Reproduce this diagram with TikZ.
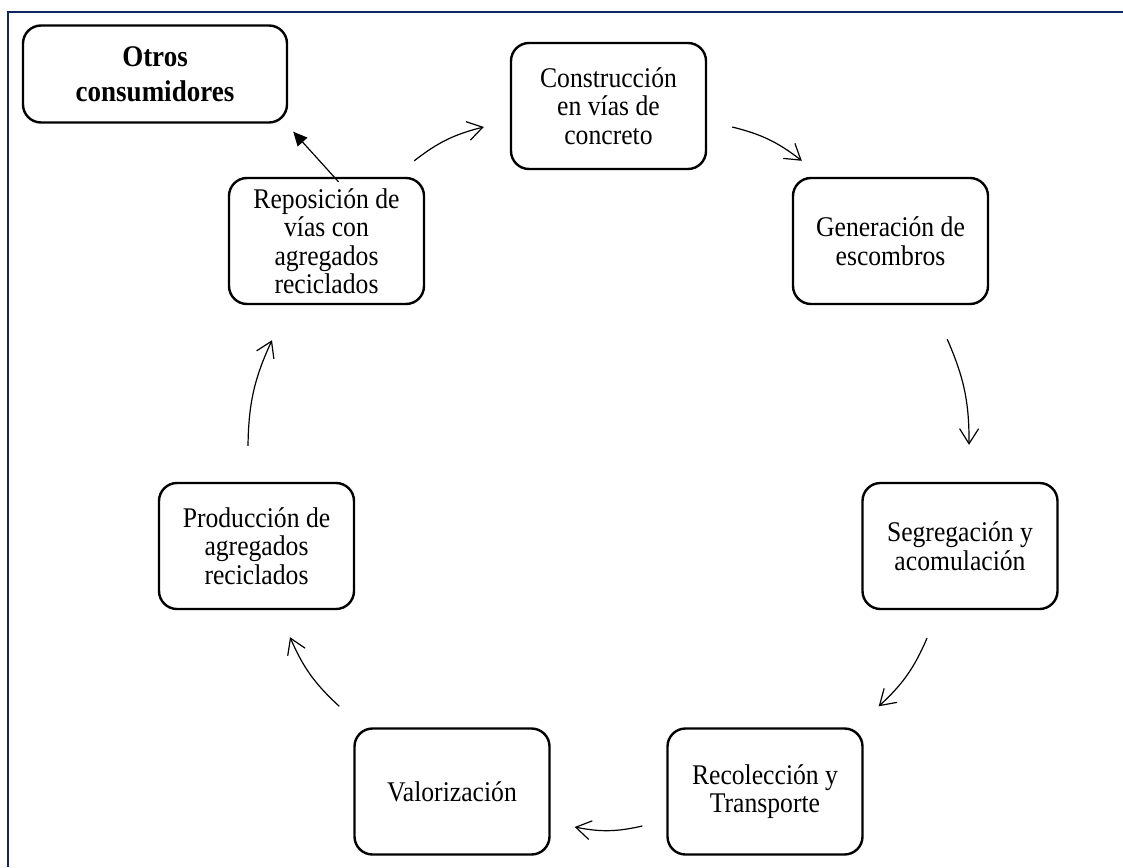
\documentclass[tikz,border=0pt]{standalone}
\usepackage{fontspec}
\setmainfont{Liberation Serif}[FakeStretch=0.9]
\usetikzlibrary{arrows.meta}
\definecolor{frameblue}{RGB}{16,38,96}
\begin{document}
\begin{tikzpicture}[x=1pt,y=-1pt,
  stage/.style={draw, line width=2.4pt, rounded corners=18pt,
    minimum width=195pt, minimum height=126pt, align=center, inner sep=0pt,
    font=\fontsize{28.5}{28.5}\selectfont},
  sink/.style={draw, line width=2.4pt, rounded corners=18pt,
    minimum width=264pt, minimum height=97pt, align=center, inner sep=0pt,
    font=\bfseries\fontsize{30}{35}\selectfont},
  flow/.style={line width=1.2pt,
    -{Straight Barb[length=15pt,width=19pt,line width=1.2pt]}, bend left=12},
  feed/.style={line width=1.2pt, -{Triangle[length=14pt,width=13pt]}}]
\useasboundingbox (0,0) rectangle (1123,867);
% frame lines
\draw[frameblue, line width=2.8pt] (8,867) -- (8,12) -- (1123,12);

% stages of the cycle
\node[sink]  (otros) at (155,74)     {Otros\\consumidores};
\node[stage] (con)   at (608.5,106)  {Construcción\\en vías de\\concreto};
\node[stage] (gen)   at (890.5,241)  {Generación de\\escombros};
\node[stage] (seg)   at (960,546)    {Segregación y\\acomulación};
\node[stage] (rec)   at (765,791.5)  {Recolección y\\Transporte};
\node[stage] (val)   at (452,791.5)  {Valorización};
\node[stage] (pro)   at (256.5,546)  {Producción de\\agregados\\reciclados};
\node[stage] (rep)   at (326.5,241)  {Reposición de\\vías con\\agregados\\reciclados};

% cycle arrows
\draw[flow] ([shift={(-11,-16)}]rep.north east) to ([shift={(-26,21)}]con.west);
\draw[flow] ([shift={(25,21)}]con.east) to ([shift={(10,-16)}]gen.north west);
\draw[flow] ([shift={(-42,34)}]gen.south east) to ([shift={(9,-37)}]seg.north);
\draw[flow] ([shift={(-33,28)}]seg.south) to ([shift={(15,-21)}]rec.north east);
\draw[flow] ([shift={(-24,34.5)}]rec.west) to ([shift={(24,35.5)}]val.east);
\draw[flow] ([shift={(-14,-21)}]val.north west) to ([shift={(33.5,27)}]pro.south);
\draw[flow] ([shift={(-8.5,-36)}]pro.north) to ([shift={(-54.5,35)}]rep.south);

% branch to other consumers
\draw[feed] ([shift={(12,5)}]rep.north) -- ([shift={(5,8)}]otros.south east);
\end{tikzpicture}
\end{document}
